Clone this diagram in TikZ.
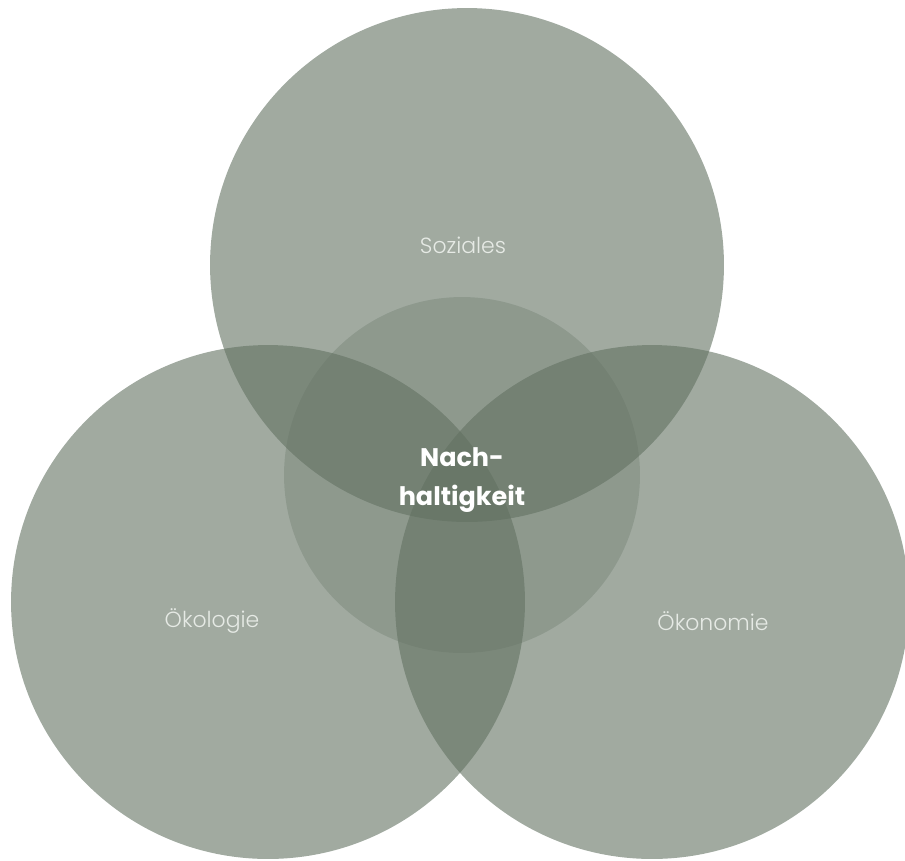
\documentclass[tikz,border=0pt]{standalone}
\usepackage{fontspec}
\setmainfont{Poppins}
\newfontfamily\lightfont{Poppins Light}
\usepackage{xcolor}
\usepackage{tikz}
\usetikzlibrary{positioning}

\definecolor{sage}{RGB}{98,113,97}
\definecolor{labelgray}{RGB}{230,234,229}

\begin{document}
\begin{tikzpicture}[
        x=0.02cm, y=-0.02cm,
        blob/.style={circle, fill=sage, fill opacity=0.6, minimum size=10.28cm, inner sep=0pt},
        core/.style={circle, fill=sage, fill opacity=0.3, minimum size=7.12cm, inner sep=0pt},
        lbl/.style={text=labelgray, font=\lightfont\fontsize{12.5}{15}\selectfont},
        title/.style={text=white, align=center, font=\bfseries\fontsize{14.5}{22}\selectfont}
    ]
    \useasboundingbox (0,0) rectangle (905,860);

    % Circles
    \node[blob] (soz) at (467,265) {};
    \node[blob] (oeko) at (268,602) {};
    \node[blob] (oekon) at (652,602) {};
    \node[core] (mitte) at (462,475) {};

    % Labels
    \node[lbl] (tsoz) at (463,245) {Soziales};
    \node[lbl] (toeko) at (212,621) {Ökologie};
    \node[lbl] (toekon) at (713,621) {Ökonomie};
    \node[title] (tmitte) at (462,480) {Nach-\\haltigkeit};

\end{tikzpicture}
\end{document}
